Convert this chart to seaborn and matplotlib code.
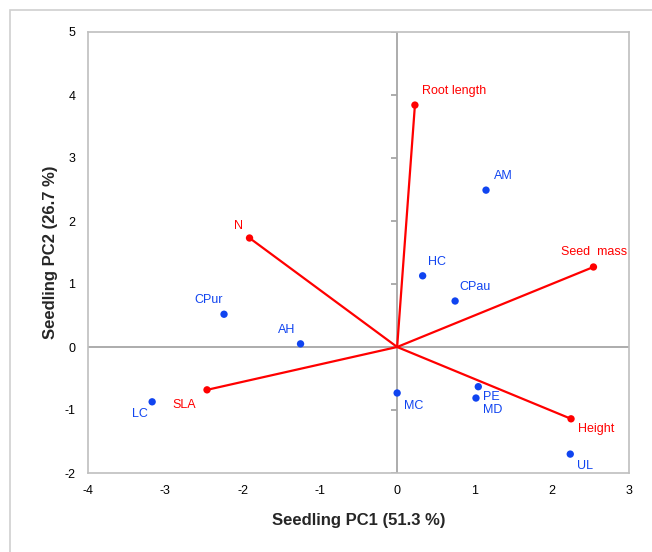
import matplotlib
matplotlib.use("Agg")
import numpy as np
import pandas as pd
import matplotlib.pyplot as plt
import seaborn as sns
from matplotlib.patches import Rectangle

# --- dati ---
specie = ['AM', 'HC', 'CPau', 'CPur', 'AH', 'LC', 'MC', 'PE', 'MD', 'UL']
specie_pc1 = [1.15, 0.33, 0.75, -2.24, -1.25, -3.17, 0.0, 1.05, 1.02, 2.24]
specie_pc2 = [2.49, 1.13, 0.73, 0.52, 0.05, -0.87, -0.73, -0.63, -0.81, -1.70]

tratti = ['Root length', 'N', 'Seed  mass', 'SLA', 'Height']
tratti_pc1 = [0.23, -1.91, 2.54, -2.46, 2.25]
tratti_pc2 = [3.84, 1.73, 1.27, -0.68, -1.14]

x_ticks = [-4, -3, -2, -1, 0, 1, 2, 3]
y_ticks = [-2, -1, 0, 1, 2, 3, 4, 5]

# posizione delle etichette (pixel rispetto al punto)
off_specie = [(17, 14), (14, 14), (20, 14), (-15, 14), (-14, 14),
              (-12, -12), (17, -13), (13, -10), (17, -12), (15, -12)]
off_tratti = [(39, 14), (-11, 12), (1, 15), (-23, -15), (25, -10)]

df_sp = pd.DataFrame({'PC1': specie_pc1, 'PC2': specie_pc2, 'nome': specie})
df_tr = pd.DataFrame({'PC1': tratti_pc1, 'PC2': tratti_pc2, 'nome': tratti})

sns.set_theme(style="white")
plt.rcParams['font.family'] = ['Liberation Sans', 'DejaVu Sans']
plt.rcParams['axes.unicode_minus'] = False

blu = '#1044F0'
rosso = '#FF0000'
grigio = '#A6A6A6'

fig = plt.figure(figsize=(6.52, 5.52), dpi=100)
ax = fig.add_axes([88 / 652, 79 / 552, 541 / 652, 441 / 552])

# cornice esterna del grafico
fig.patches.append(Rectangle((10 / 652, -0.1), 1.2, (552 - 10) / 552 + 0.1,
                             transform=fig.transFigure, fill=False,
                             edgecolor='#D0D0D0', linewidth=1.2))

ax.axhline(0, color=grigio, lw=1.3, zorder=1)
ax.axvline(0, color=grigio, lw=1.3, zorder=1)
ax.hlines(y_ticks, -0.08, 0, color=grigio, lw=1.3, zorder=1)

# vettori dei tratti
for _, r in df_tr.iterrows():
    ax.plot([0, r['PC1']], [0, r['PC2']], color=rosso, lw=1.6, zorder=2)
sns.scatterplot(data=df_tr, x='PC1', y='PC2', color=rosso, s=28,
                edgecolor='none', ax=ax, zorder=3)
sns.scatterplot(data=df_sp, x='PC1', y='PC2', color=blu, s=28,
                edgecolor='none', ax=ax, zorder=3)

for (_, r), off in zip(df_sp.iterrows(), off_specie):
    ax.annotate(r['nome'], (r['PC1'], r['PC2']), xytext=off,
                textcoords='offset pixels', ha='center', va='center',
                color=blu, fontsize=9)
for (_, r), off in zip(df_tr.iterrows(), off_tratti):
    ax.annotate(r['nome'], (r['PC1'], r['PC2']), xytext=off,
                textcoords='offset pixels', ha='center', va='center',
                color=rosso, fontsize=9)

ax.set_xlim(-4, 3)
ax.set_ylim(-2, 5)
ax.set_xticks(x_ticks)
ax.set_yticks(y_ticks)
ax.tick_params(length=0, labelsize=9, pad=9, colors='black')
for s in ax.spines.values():
    s.set_color('#BFBFBF')
    s.set_linewidth(1.2)

ax.set_xlabel('Seedling PC1 (51.3 %)', fontsize=12, fontweight='bold', labelpad=11)
ax.set_ylabel('Seedling PC2 (26.7 %)', fontsize=12, fontweight='bold', labelpad=5)

fig.savefig('out.png', dpi=100)
